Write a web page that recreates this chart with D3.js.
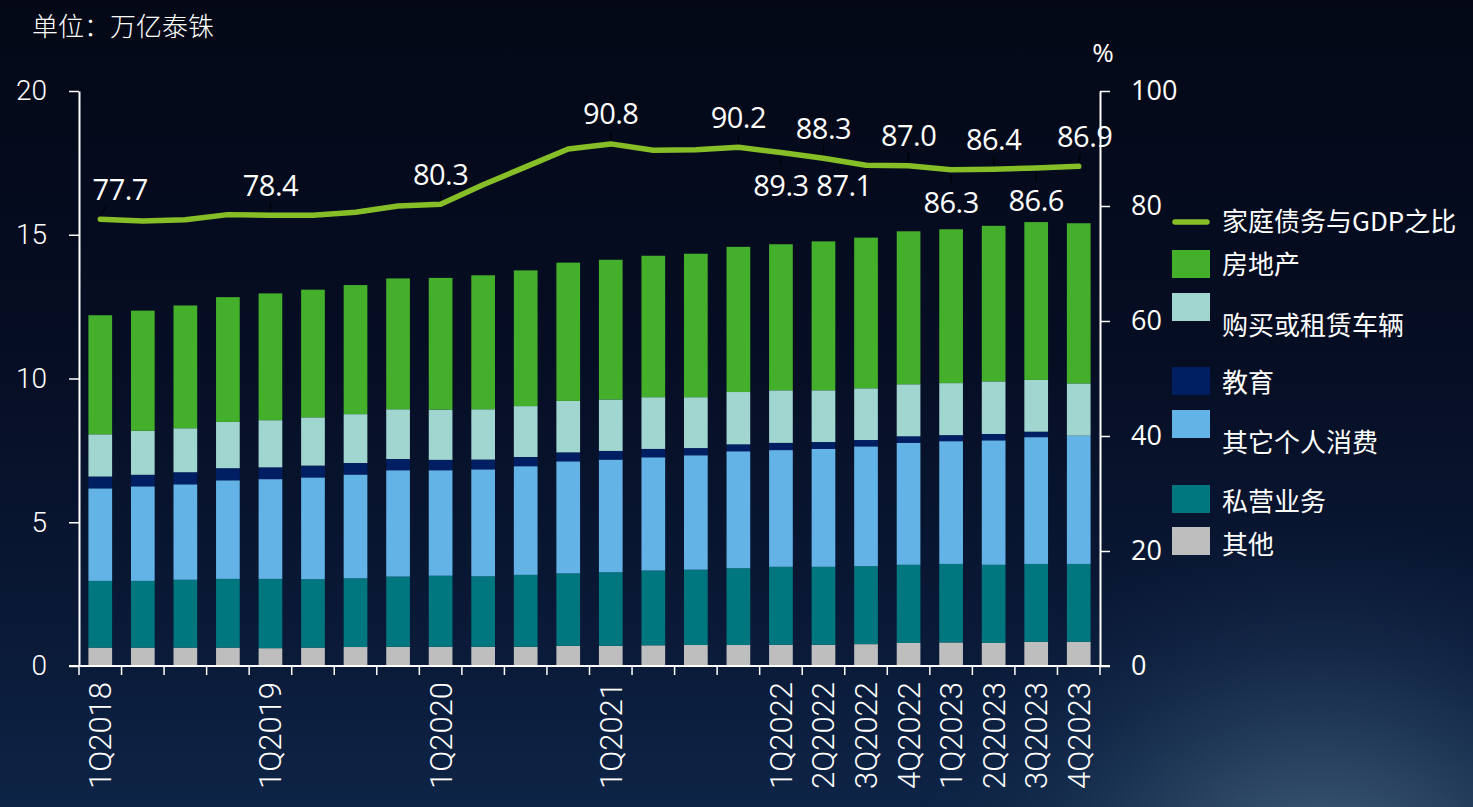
<!DOCTYPE html>
<html><head><meta charset="utf-8">
<script src="https://cdn.jsdelivr.net/npm/d3@7"></script>
<style>
html,body{margin:0;padding:0;background:#050a1a;}
svg{display:block;}
</style></head>
<body>
<svg id="chart" width="1473" height="807"></svg>
<script>
// ---------------- DATA ----------------
const quarters = ["1Q2018","2Q2018","3Q2018","4Q2018","1Q2019","2Q2019","3Q2019","4Q2019",
  "1Q2020","2Q2020","3Q2020","4Q2020","1Q2021","2Q2021","3Q2021","4Q2021",
  "1Q2022","2Q2022","3Q2022","4Q2022","1Q2023","2Q2023","3Q2023","4Q2023"];
const shownTickLabels = ["1Q2018","1Q2019","1Q2020","1Q2021","1Q2022","2Q2022","3Q2022","4Q2022",
  "1Q2023","2Q2023","3Q2023","4Q2023"];
// 万亿泰铢
const other      = [0.64,0.64,0.64,0.64,0.62,0.64,0.66,0.67,0.67,0.67,0.67,0.70,0.70,0.72,0.73,0.73,0.74,0.74,0.76,0.80,0.82,0.80,0.84,0.84];
const business   = [2.32,2.32,2.36,2.39,2.41,2.38,2.39,2.44,2.47,2.45,2.50,2.52,2.56,2.60,2.62,2.67,2.71,2.71,2.71,2.72,2.73,2.72,2.71,2.71];
const consumer   = [3.22,3.29,3.32,3.43,3.47,3.54,3.61,3.70,3.67,3.72,3.78,3.90,3.92,3.94,3.98,4.07,4.06,4.10,4.17,4.24,4.27,4.33,4.41,4.46];
const education  = [0.41,0.40,0.42,0.42,0.41,0.41,0.40,0.39,0.36,0.34,0.32,0.31,0.30,0.29,0.25,0.24,0.25,0.24,0.22,0.23,0.21,0.22,0.19,0.00];
const vehicle    = [1.47,1.53,1.53,1.61,1.64,1.68,1.70,1.73,1.75,1.75,1.77,1.79,1.79,1.80,1.77,1.82,1.83,1.80,1.80,1.81,1.81,1.83,1.80,1.82];
const realEstate = [4.14,4.18,4.27,4.34,4.41,4.44,4.49,4.55,4.58,4.66,4.72,4.81,4.86,4.92,4.99,5.05,5.08,5.18,5.24,5.32,5.35,5.41,5.49,5.57];
// 家庭债务与GDP之比 (%)
const debtToGDP  = [77.7,77.4,77.6,78.5,78.4,78.4,78.9,80.0,80.3,83.7,86.8,89.9,90.8,89.7,89.8,90.2,89.3,88.3,87.1,87.0,86.3,86.4,86.6,86.9];
// which points carry a value label, and on which side
const labelSide  = {"1Q2018":"above","1Q2019":"above","1Q2020":"above","1Q2021":"above","4Q2021":"above",
  "1Q2022":"below","2Q2022":"above","3Q2022":"below","4Q2022":"above","1Q2023":"below","2Q2023":"above",
  "3Q2023":"below","4Q2023":"above"};
const seriesNames = ["其他","私营业务","其它个人消费","教育","购买或租赁车辆","房地产"];
const seriesData  = [other,business,consumer,education,vehicle,realEstate];
const lineName = "家庭债务与GDP之比";
const leftTicks = [0,5,10,15,20];
const rightTicks = [0,20,40,60,80,100];

// ---------------- STYLE ----------------
const colors = {"其他":"#BEBEBE","私营业务":"#00767E","其它个人消费":"#63B3E6","教育":"#001F63",
  "购买或租赁车辆":"#A0D5D0","房地产":"#43AF2B"};
const lineColor = "#86BE27";
const textColor = "#FFFFFF";

const svg = d3.select("#chart");
const W = 1473, H = 807;

// background
const defs = svg.append("defs");
const lg = defs.append("linearGradient").attr("id","bg").attr("x1",0).attr("y1",0).attr("x2",0).attr("y2",1);
lg.append("stop").attr("offset","0%").attr("stop-color","#040816");
lg.append("stop").attr("offset","45%").attr("stop-color","#060e24");
lg.append("stop").attr("offset","80%").attr("stop-color","#0a1a38");
lg.append("stop").attr("offset","100%").attr("stop-color","#0e2446");
const rg = defs.append("radialGradient").attr("id","glow").attr("gradientUnits","userSpaceOnUse")
  .attr("cx",1320).attr("cy",930).attr("r",420);
rg.append("stop").attr("offset","0%").attr("stop-color","#5a7890").attr("stop-opacity",0.95);
rg.append("stop").attr("offset","55%").attr("stop-color","#2d4a66").attr("stop-opacity",0.5);
rg.append("stop").attr("offset","100%").attr("stop-color","#0e2446").attr("stop-opacity",0);
svg.append("rect").attr("width",W).attr("height",H).attr("fill","url(#bg)");
svg.append("rect").attr("width",W).attr("height",H).attr("fill","url(#glow)");

// scales
const x0 = 79, x1 = 1100, yBase = 666, yTop = 91;
const x = d3.scaleBand().domain(quarters).range([x0,x1]).paddingInner(0.443).paddingOuter(0.2215);
const yL = d3.scaleLinear().domain([0,20]).range([yBase,yTop]);
const yR = d3.scaleLinear().domain([0,100]).range([yBase,yTop]);

// stacked bars
const table = quarters.map((q,i)=>{
  const o = {q};
  seriesNames.forEach((n,k)=>o[n]=seriesData[k][i]);
  return o;
});
const stack = d3.stack().keys(seriesNames)(table);
svg.append("g").selectAll("g").data(stack).join("g")
  .attr("fill",d=>colors[d.key])
  .selectAll("rect").data(d=>d).join("rect")
  .attr("x",d=>x(d.data.q))
  .attr("width",x.bandwidth())
  .attr("y",d=>yL(d[1]))
  .attr("height",d=>Math.max(0,yL(d[0])-yL(d[1])));

// axes
const axisColor = "#FFFFFF";
const gx = svg.append("g");
gx.append("line").attr("x1",69).attr("x2",1110).attr("y1",yBase).attr("y2",yBase)
  .attr("stroke",axisColor).attr("stroke-width",2);
const tickPos = quarters.map(q=>x(q)-x.step()*x.paddingInner()/2).concat([x1]);
gx.selectAll("line.t").data(tickPos).join("line").attr("class","t")
  .attr("x1",d=>d).attr("x2",d=>d).attr("y1",yBase).attr("y2",yBase+9)
  .attr("stroke",axisColor).attr("stroke-width",1.5);
gx.selectAll("text").data(quarters.filter(q=>shownTickLabels.includes(q))).join("text")
  .attr("transform",d=>`translate(${x(d)+x.bandwidth()/2+11},682) rotate(-90)`)
  .attr("text-anchor","end")
  .attr("font-family","Roboto, sans-serif").attr("font-weight",300)
  .attr("font-size",31).attr("fill",textColor)
  .text(d=>d);

const gl = svg.append("g").attr("transform",`translate(${x0},0)`)
  .call(d3.axisLeft(yL).tickValues(leftTicks).tickSize(10).tickPadding(22).tickSizeOuter(0));
gl.select(".domain").attr("stroke",axisColor).attr("stroke-width",2);
gl.selectAll(".tick line").attr("stroke",axisColor).attr("stroke-width",1.5);
gl.selectAll(".tick text").attr("fill",textColor).attr("font-family","Roboto, sans-serif")
  .attr("font-weight",300).attr("font-size",28);

const gr = svg.append("g").attr("transform",`translate(${x1},0)`)
  .call(d3.axisRight(yR).tickValues(rightTicks).tickSize(10).tickPadding(21).tickSizeOuter(0));
gr.select(".domain").attr("stroke",axisColor).attr("stroke-width",2);
gr.selectAll(".tick line").attr("stroke",axisColor).attr("stroke-width",1.5);
gr.selectAll(".tick text").attr("fill",textColor).attr("font-family","'Open Sans', sans-serif")
  .attr("font-size",27);

// units
svg.append("text").attr("x",32).attr("y",36).attr("fill",textColor)
  .attr("font-family","'Noto Sans CJK SC', sans-serif").attr("font-weight",300).attr("font-size",26)
  .text("单位：万亿泰铢");
svg.append("text").attr("x",1103).attr("y",62).attr("fill",textColor).attr("text-anchor","middle")
  .attr("font-family","'Open Sans', sans-serif").attr("font-size",26).text("%");

// line
const cx = q => x(q)+x.bandwidth()/2;
const line = d3.line().x((d,i)=>cx(quarters[i])).y(d=>yR(d));
svg.append("path").datum(debtToGDP).attr("d",line)
  .attr("fill","none").attr("stroke",lineColor).attr("stroke-width",5.5)
  .attr("stroke-linejoin","round").attr("stroke-linecap","round");

// value labels with leader lines
const labelShift = {"1Q2018":20,"3Q2022":-22,"4Q2023":6};
const labelLift = {"3Q2022":-13};
const lbl = svg.append("g");
quarters.forEach((q,i)=>{
  const side = labelSide[q]; if(!side) return;
  const px = cx(q), py = yR(debtToGDP[i]);
  const dx = labelShift[q]||0;
  const ty = (side==="above" ? py-30 : py+33) + (labelLift[q]||0);
  lbl.append("line").attr("x1",px).attr("y1",side==="above"?py-4:py+4)
    .attr("x2",px+dx*0.3).attr("y2",side==="above"?py-13:py+13)
    .attr("stroke","#000000").attr("stroke-width",1.2);
  lbl.append("text").attr("x",px+dx).attr("y",ty).attr("dy","0.36em")
    .attr("text-anchor","middle").attr("fill",textColor)
    .attr("font-family","'Open Sans', sans-serif").attr("font-size",29)
    .attr("letter-spacing",-0.5)
    .text(debtToGDP[i].toFixed(1));
});

// legend
const legendRows = [
  {name:lineName, type:"line", sy:222, ty:222},
  {name:"房地产", sy:250, ty:265},
  {name:"购买或租赁车辆", sy:293, ty:326},
  {name:"教育", sy:367, ty:383},
  {name:"其它个人消费", sy:410, ty:443},
  {name:"私营业务", sy:485, ty:502},
  {name:"其他", sy:527, ty:545}
];
const lgG = svg.append("g");
legendRows.forEach(r=>{
  if(r.type==="line"){
    lgG.append("line").attr("x1",1175).attr("x2",1207).attr("y1",r.sy).attr("y2",r.sy)
      .attr("stroke",lineColor).attr("stroke-width",5.5).attr("stroke-linecap","round");
  } else {
    lgG.append("rect").attr("x",1172).attr("y",r.sy).attr("width",38).attr("height",28)
      .attr("fill",colors[r.name]);
  }
  lgG.append("text").attr("x",1222).attr("y",r.ty).attr("dy","0.35em").attr("fill",textColor)
    .attr("font-family","'Noto Sans CJK SC', sans-serif").attr("font-size",26)
    .text(r.name);
});
</script>
</body></html>
